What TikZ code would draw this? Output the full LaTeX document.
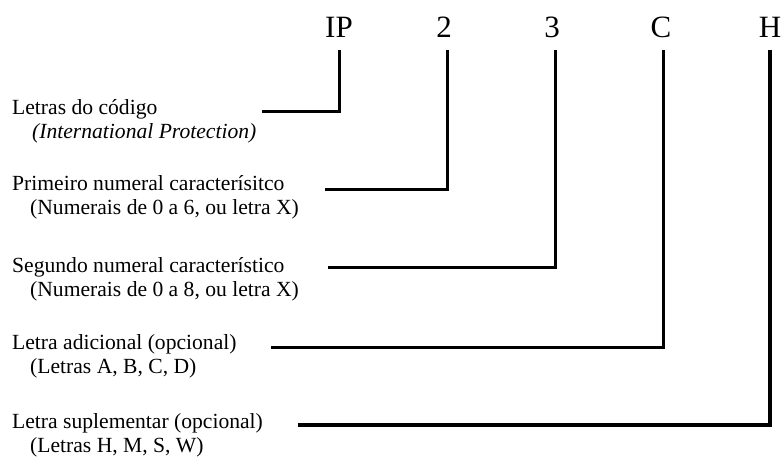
\documentclass[tikz,border=0pt]{standalone}
\usepackage{fontspec}
\setmainfont{Liberation Serif}
\usetikzlibrary{positioning}
\tikzset{%
  ipcode/.style={%
    inner sep=0pt,
    anchor=base,
    font=\fontsize{31}{31}\selectfont
  },
  iplabel/.style={%
    inner sep=0pt,
    anchor=base west,
    align=left,
    font=\fontsize{21.6}{23.5}\selectfont
  },
  ipline/.style={line width=3pt,draw=black}
}
\begin{document}
\begin{tikzpicture}[x=1pt,y=-1pt]
    \fill[white] (0,0) rectangle (783,458);
    \useasboundingbox (0,0) rectangle (783,458);

    % code letters along the top
    \node[ipcode] (ip) at (339,37) {IP};
    \node[ipcode] (first) at (444,37) {2};
    \node[ipcode] (second) at (552,37) {3};
    \node[ipcode] (extra) at (661,37) {C};
    \node[ipcode] (suppl) at (770,37) {H};

    % descriptions on the left (anchored on their second line)
    \node[iplabel] (letras) at (12,138) {Letras do código\\\hspace*{20pt}\textit{(International Protection)}};
    \node[iplabel] (prim) at (12,214) {Primeiro numeral caracterísitco\\\hspace*{18pt}(Numerais de 0 a 6, ou letra X)};
    \node[iplabel] (seg) at (12,296) {Segundo numeral característico\\\hspace*{18pt}(Numerais de 0 a 8, ou letra X)};
    \node[iplabel] (adic) at (12,373) {Letra adicional (opcional)\\\hspace*{18pt}(Letras A, B, C, D)};
    \node[iplabel] (supl) at (12,452) {Letra suplementar (opcional)\\\hspace*{18pt}(Letras H, M, S, W)};

    % where each leader starts
    \coordinate (s1) at (262,111);
    \coordinate (s2) at (325,189);
    \coordinate (s3) at (328,267);
    \coordinate (s4) at (271,347);
    \coordinate (s5) at (298,425);

    \draw[ipline] (s1) -| ([yshift=-13pt]ip.base);
    \draw[ipline] (s2) -| ([xshift=3pt,yshift=-13pt]first.base);
    \draw[ipline] (s3) -| ([xshift=3pt,yshift=-13pt]second.base);
    \draw[ipline] (s4) -| ([xshift=2pt,yshift=-13pt]extra.base);
    \draw[ipline,line width=3.5pt] (s5) -| ([yshift=-13pt]suppl.base);
\end{tikzpicture}
\end{document}
